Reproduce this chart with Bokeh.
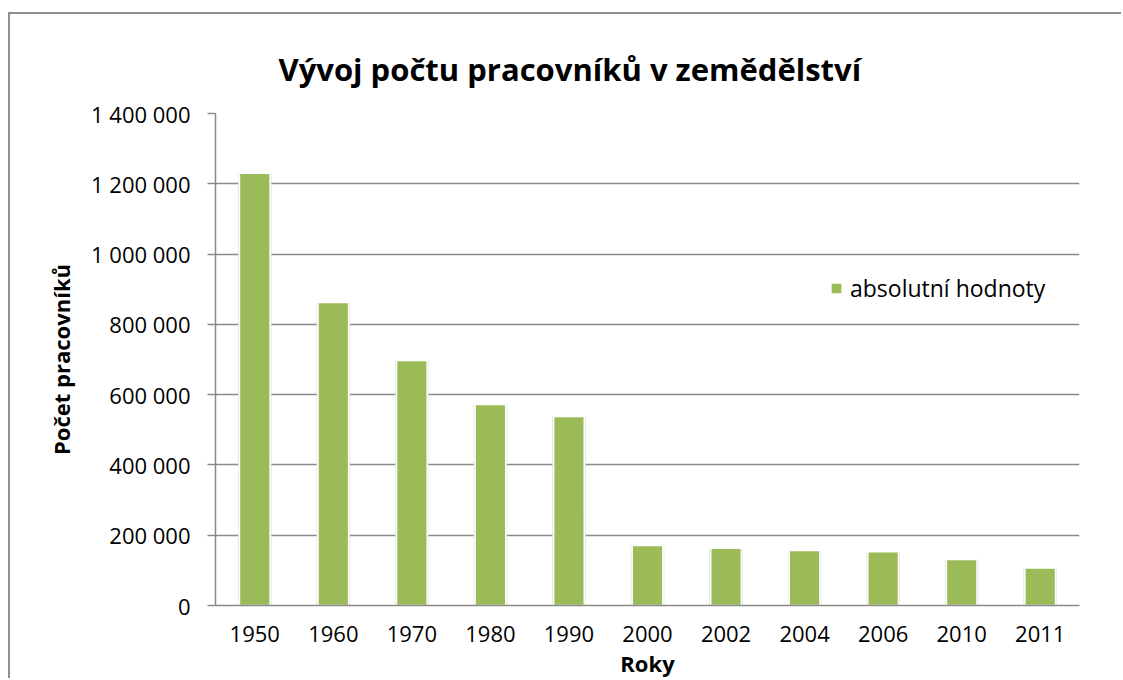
from bokeh.plotting import figure
from bokeh.models import FixedTicker, Title, Legend, LegendItem
from bokeh.embed import file_html
from bokeh.resources import INLINE

years = ["1950", "1960", "1970", "1980", "1990", "2000", "2002", "2004", "2006", "2010", "2011"]
workers = [1230000, 862000, 697000, 572000, 538000, 171000, 163000, 156500, 153000, 131000, 107000]
y_ticks = [0, 200000, 400000, 600000, 800000, 1000000, 1200000, 1400000]
y_tick_labels = {v: f"{v:,}".replace(",", " ") for v in y_ticks}

title_text = "Vývoj počtu pracovníků v zemědělství"
series_name = "absolutní hodnoty"
x_label = "Roky"
y_label = "Počet pracovníků"

FONT = "Open Sans"
GRID = "#8a8a8a"
GREEN = "#9bbb59"

p = figure(x_range=years, y_range=(0, 1400000), width=1113, height=666,
           output_backend="svg", toolbar_location=None,
           min_border_left=205, min_border_right=44, min_border_top=99, min_border_bottom=75)
p.styles = {"border-top": "2px solid #8f8f8f", "border-left": "2px solid #8f8f8f",
            "margin-top": "12px", "margin-left": "8px"}
p.outline_line_color = None
p.background_fill_color = "white"
p.border_fill_color = "white"

t = Title(text=title_text, text_font=FONT, text_font_size="31px", text_font_style="bold",
          text_color="black", align="left", vertical_align="top", offset=63, standoff=43,
          text_line_height=0.5)
p.add_layout(t, "above")

# soft shadow behind bars
p.vbar(x=years, top=workers, width=0.43, bottom=0, fill_color="#dcdcdc", line_color=None, fill_alpha=0.7)
bars = p.vbar(x=years, top=workers, width=0.39, bottom=0, fill_color=GREEN,
              line_color="white", line_width=1.5)

p.xgrid.grid_line_color = None
p.ygrid.grid_line_color = GRID
p.ygrid.grid_line_width = 1.5

p.yaxis.ticker = FixedTicker(ticks=y_ticks)
p.yaxis.major_label_overrides = y_tick_labels
p.yaxis.minor_tick_line_color = None
p.yaxis.major_tick_out = 8
p.yaxis.major_tick_in = 0
p.yaxis.major_tick_line_color = GRID
p.yaxis.major_tick_line_width = 1.5
p.yaxis.axis_line_color = GRID
p.yaxis.axis_line_width = 1.5
p.yaxis.major_label_standoff = 17
p.yaxis.major_label_text_font = FONT
p.yaxis.major_label_text_font_size = "22px"
p.yaxis.major_label_text_color = "black"
p.yaxis.axis_label = y_label
p.yaxis.axis_label_text_font = FONT
p.yaxis.axis_label_text_font_size = "22px"
p.yaxis.axis_label_text_font_style = "bold"
p.yaxis.axis_label_text_color = "black"
p.yaxis.axis_label_standoff = 12

p.xaxis.major_tick_line_color = None
p.xaxis.minor_tick_line_color = None
p.xaxis.major_tick_out = 0
p.xaxis.axis_line_color = GRID
p.xaxis.axis_line_width = 1.5
p.xaxis.major_label_standoff = 20
p.xaxis.major_label_text_font = FONT
p.xaxis.major_label_text_font_size = "22px"
p.xaxis.major_label_text_color = "black"
p.xaxis.axis_label = x_label
p.xaxis.axis_label_text_font = FONT
p.xaxis.axis_label_text_font_size = "22px"
p.xaxis.axis_label_text_font_style = "bold"
p.xaxis.axis_label_text_color = "black"
p.xaxis.axis_label_standoff = 3

legend = Legend(items=[LegendItem(label=series_name, renderers=[bars])],
                location=(614, 301), glyph_width=14, glyph_height=14, label_standoff=7,
                padding=0, margin=0, border_line_color=None, background_fill_alpha=0,
                label_text_font=FONT, label_text_font_size="23px", label_text_color="black")
p.add_layout(legend, "center")

open("out.html", "w").write(file_html(p, INLINE))
